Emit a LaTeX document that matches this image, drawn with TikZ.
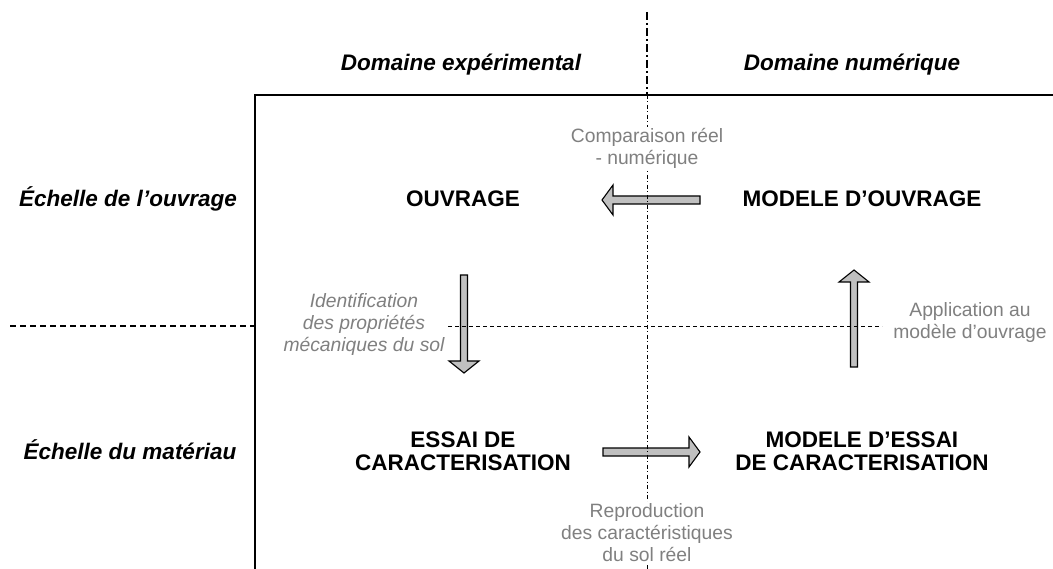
\documentclass[tikz,border=0pt]{standalone}
\usepackage{fontspec}
\setmainfont{Liberation Sans}
\definecolor{txtgrey}{HTML}{808080}
\definecolor{arrowfill}{HTML}{C0C0C0}
\begin{document}
\begin{tikzpicture}[x=1pt,y=-1pt,
  hdr/.style={font=\fontsize{22.5}{25}\selectfont\bfseries\itshape, inner sep=0pt, anchor=base},
  box/.style={font=\fontsize{22.5}{24}\selectfont\bfseries, inner sep=0pt, anchor=base, align=center},
  note/.style={font=\fontsize{19.3}{22}\selectfont, text=txtgrey, fill=white, inner sep=1.5pt, anchor=base, align=center},
  blockarrow/.style={draw=black, fill=arrowfill, line width=1.1pt, line join=miter},
  framel/.style={line width=1.4pt},
  thickdashdot/.style={line width=1.9pt, dash pattern=on 8pt off 3pt on 2pt off 3pt},
  thindashdot/.style={line width=0.8pt, dash pattern=on 4pt off 2.5pt on 1pt off 2.5pt},
  thickdash/.style={line width=1.8pt, dash pattern=on 6pt off 4pt},
  thindash/.style={line width=0.8pt, dash pattern=on 4pt off 3pt}]
\useasboundingbox (0,0) rectangle (1053,569);

% block arrows
\draw[blockarrow] (700,196)--(613,196)--(613,185)--(602,200)--(613,215)--(613,204)--(700,204)--cycle;
\draw[blockarrow] (460.5,275)--(467.5,275)--(467.5,361)--(479,361)--(464,373)--(449,361)--(460.5,361)--cycle;
\draw[blockarrow] (850.5,367)--(857.5,367)--(857.5,282)--(869,282)--(854,270)--(839,282)--(850.5,282)--cycle;
\draw[blockarrow] (603,448)--(689,448)--(689,437)--(700,452)--(689,467)--(689,456)--(603,456)--cycle;

% axes / frame
\coordinate (vtop) at (647,12);
\coordinate (vmid) at (647,95);
\coordinate (vbot) at (647,569);
\coordinate (fl) at (255,95);
\coordinate (fr) at (1053,95);
\coordinate (fb) at (255,569);
\coordinate (hl) at (10,326);
\coordinate (hm) at (255,326);
\coordinate (hs) at (448,326);
\coordinate (he) at (882,326);
\draw[thickdashdot] (vtop) -- (vmid);
\draw[thindashdot] (vmid) -- (vbot);
\draw[framel] (fb) -- (fl) -- (fr);
\draw[thickdash] (hl) -- (hm);
\draw[thindash] (hs) -- (he);

% headers
\node[hdr] (dexp) at (461,70.5) {Domaine expérimental};
\node[hdr] (dnum) at (852,70.5) {Domaine numérique};
\node[hdr] (eouv) at (128,207) {Échelle de l’ouvrage};
\node[hdr] (emat) at (130,459) {Échelle du matériau};

% main boxes
\node[box] (ouv) at (463,207) {OUVRAGE};
\node[box] (mouv) at (862,207) {MODELE D’OUVRAGE};
\node[box] (ess) at (463,471) {ESSAI DE\\CARACTERISATION};
\node[box] (mess) at (862,471) {MODELE D’ESSAI\\DE CARACTERISATION};

% notes
\node[note] (comp) at (647,165) {Comparaison réel\\- numérique};
\node[note, font=\fontsize{19.3}{22}\selectfont\itshape] (ident) at (364,352) {Identification\\des propriétés\\mécaniques du sol};
\node[note] (appl) at (970,339) {Application au\\modèle d’ouvrage};
\node[note] (repr) at (647,561) {Reproduction\\des caractéristiques\\du sol réel};
\end{tikzpicture}
\end{document}
